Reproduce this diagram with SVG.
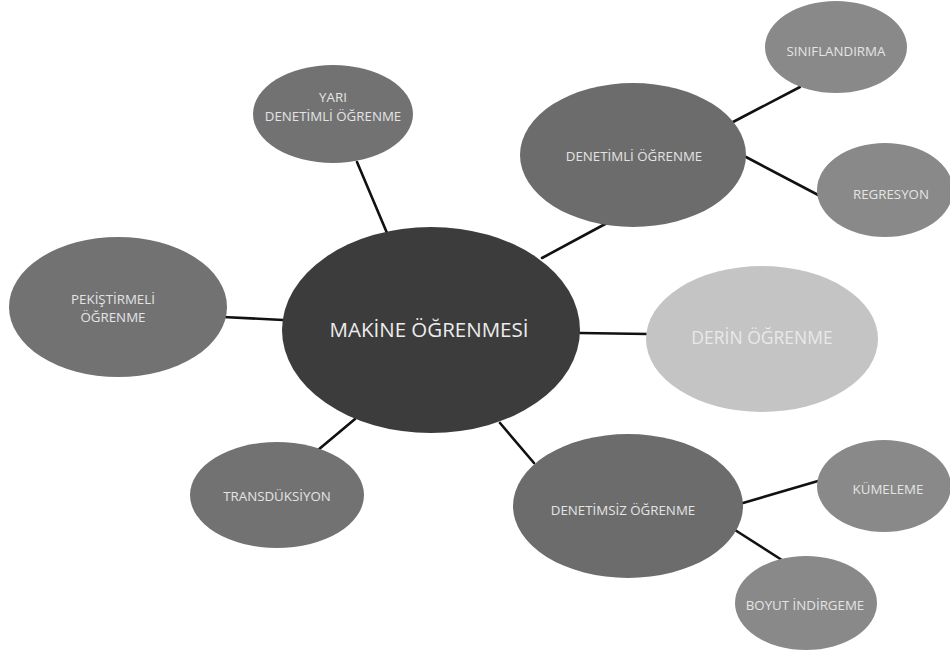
<svg xmlns="http://www.w3.org/2000/svg" width="950" height="652" viewBox="0 0 950 652">
  <style>
    .bg { fill: #ffffff; }
    .edge { stroke: #111111; stroke-width: 2.6; stroke-linecap: round; fill: none; }
    .core { fill: #3c3c3c; }
    .mid { fill: #727272; }
    .mid2 { fill: #6c6c6c; }
    .leaf { fill: #898989; }
    .pale { fill: #c4c4c4; }
    text { font-family: "Open Sans", "Liberation Sans", sans-serif; fill: #e4e4e4; text-anchor: middle; }
    .t-core { font-size: 20.5px; fill: #ececec; }
    .t-mid { font-size: 13.3px; }
    .t-pale { font-size: 17.5px; fill: #e9e9e9; }
  </style>
  <rect class="bg" x="0" y="0" width="950" height="652"/>

  <!-- connectors -->
  <g id="connectors">
    <line class="edge" x1="357" y1="162" x2="387" y2="233"/>
    <line class="edge" x1="542" y1="258" x2="607" y2="223"/>
    <line class="edge" x1="733" y1="122" x2="800" y2="87"/>
    <line class="edge" x1="746" y1="157" x2="822" y2="197"/>
    <line class="edge" x1="223" y1="317" x2="283" y2="320"/>
    <line class="edge" x1="580" y1="333" x2="648" y2="334"/>
    <line class="edge" x1="318" y1="450" x2="355" y2="419"/>
    <line class="edge" x1="500" y1="423" x2="534" y2="463"/>
    <line class="edge" x1="743" y1="503" x2="818" y2="481"/>
    <line class="edge" x1="735" y1="530" x2="785" y2="562"/>
  </g>

  <!-- central node -->
  <g id="node-makine">
    <ellipse class="core" cx="431" cy="330" rx="149" ry="103"/>
    <text class="t-core" x="429" y="337">MAKİNE ÖĞRENMESİ</text>
  </g>

  <g id="node-yari">
    <ellipse class="mid" cx="333" cy="114" rx="80" ry="49"/>
    <text class="t-mid" x="333" y="102">YARI</text>
    <text class="t-mid" x="333" y="121">DENETİMLİ ÖĞRENME</text>
  </g>

  <g id="node-denetimli">
    <ellipse class="mid2" cx="633" cy="155" rx="113" ry="72"/>
    <text class="t-mid" x="634" y="161">DENETİMLİ ÖĞRENME</text>
  </g>

  <g id="node-siniflandirma">
    <ellipse class="leaf" cx="836" cy="47" rx="71" ry="46"/>
    <text class="t-mid" x="836" y="56">SINIFLANDIRMA</text>
  </g>

  <g id="node-regresyon">
    <ellipse class="leaf" cx="885" cy="190" rx="68" ry="47"/>
    <text class="t-mid" x="891" y="199">REGRESYON</text>
  </g>

  <g id="node-pekistirmeli">
    <ellipse class="mid" cx="118" cy="307" rx="109" ry="70"/>
    <text class="t-mid" x="113" y="304">PEKİŞTİRMELİ</text>
    <text class="t-mid" x="113" y="322">ÖĞRENME</text>
  </g>

  <g id="node-derin">
    <ellipse class="pale" cx="762" cy="339" rx="116" ry="73"/>
    <text class="t-pale" x="762" y="344">DERİN ÖĞRENME</text>
  </g>

  <g id="node-transduksiyon">
    <ellipse class="mid" cx="277" cy="495" rx="87" ry="53"/>
    <text class="t-mid" x="277" y="501">TRANSDÜKSİYON</text>
  </g>

  <g id="node-denetimsiz">
    <ellipse class="mid2" cx="628" cy="506" rx="115" ry="72"/>
    <text class="t-mid" x="623" y="515">DENETİMSİZ ÖĞRENME</text>
  </g>

  <g id="node-kumeleme">
    <ellipse class="leaf" cx="884" cy="486" rx="67" ry="46"/>
    <text class="t-mid" x="888" y="494">KÜMELEME</text>
  </g>

  <g id="node-boyut">
    <ellipse class="leaf" cx="806" cy="603" rx="71" ry="47"/>
    <text class="t-mid" x="805" y="610">BOYUT İNDİRGEME</text>
  </g>
</svg>
